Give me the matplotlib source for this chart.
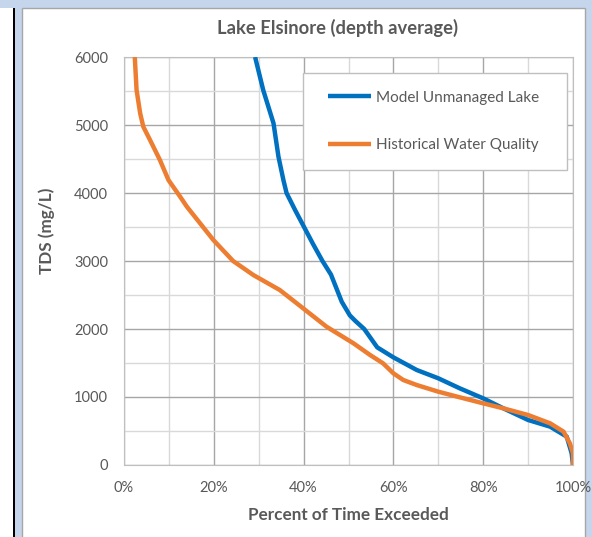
import matplotlib.pyplot as plt
from matplotlib.patches import Rectangle
from matplotlib.legend_handler import HandlerLine2D
from matplotlib.ticker import MultipleLocator, PercentFormatter

plt.rcParams['font.family'] = ['Lato', 'DejaVu Sans']

# Exceedance curves for TDS (percent of time exceeded vs mg/L)
model_pct = [29.2, 31.0, 33.3, 34.4, 35.5, 36.2, 38.1, 40.1, 42.1, 44.2, 46.1, 47.3,
             48.5, 50.3, 51.5, 53.5, 56.4, 60.0, 65.2, 70.0, 74.8, 80.0, 84.5, 90.0,
             94.9, 98.6, 99.7, 100.0]
model_tds = [6000, 5515, 5025, 4534, 4191, 4000, 3750, 3500, 3250, 3000, 2800, 2600,
             2400, 2200, 2120, 2000, 1730, 1583, 1397, 1275, 1127, 980, 833, 662,
             564, 417, 172, 0]

hist_pct = [2.4, 2.8, 3.6, 4.3, 5.8, 8.0, 9.9, 12.5, 14.0, 19.9, 24.3, 28.8, 34.7,
            39.9, 45.1, 51.1, 54.8, 57.7, 60.0, 62.2, 65.2, 70.0, 74.8, 80.0, 84.5,
            90.0, 94.9, 97.9, 99.3, 100.0, 100.0]
hist_tds = [6000, 5515, 5172, 4975, 4779, 4485, 4191, 3946, 3799, 3309, 3000, 2794, 2573,
            2304, 2034, 1790, 1618, 1495, 1348, 1250, 1176, 1078, 995, 907, 833,
            735, 613, 490, 319, 172, 0]

W, H = 592, 537
gray_text = '#595959'

fig = plt.figure(figsize=(W / 100, H / 100), dpi=100, facecolor='#c5d6ec')

# window frame pieces around the chart (kept behind the axes)
fig.patches.append(Rectangle((0, 0), 13 / W, 1 - 8 / H, transform=fig.transFigure,
                             facecolor='white', edgecolor='none', zorder=-2))
fig.patches.append(Rectangle((13 / W, 0), 2 / W, 1 - 8 / H, transform=fig.transFigure,
                             facecolor='black', edgecolor='none', zorder=-2))
fig.patches.append(Rectangle((22 / W, -0.02), (585 - 22) / W, 1 - 8 / H + 0.02,
                             transform=fig.transFigure, facecolor='white',
                             edgecolor='#a6a6a6', linewidth=1, zorder=-2))

ax = fig.add_axes([124 / W, 1 - 465 / H, (573 - 124) / W, (465 - 57) / H])
ax.set_facecolor('white')

ax.plot(model_pct, model_tds, color='#0070c0', lw=3.2, solid_joinstyle='round',
        solid_capstyle='butt', label='Model Unmanaged Lake', zorder=3)
ax.plot(hist_pct, hist_tds, color='#ed7d31', lw=3.2, solid_joinstyle='round',
        solid_capstyle='butt', label='Historical Water Quality', zorder=3)

ax.set_xlim(0, 100)
ax.set_ylim(0, 6000)
ax.xaxis.set_major_locator(MultipleLocator(20))
ax.xaxis.set_minor_locator(MultipleLocator(10))
ax.yaxis.set_major_locator(MultipleLocator(1000))
ax.yaxis.set_minor_locator(MultipleLocator(500))
ax.xaxis.set_major_formatter(PercentFormatter(decimals=0))

ax.grid(which='major', color='#a6a6a6', lw=1)
ax.grid(which='minor', color='#d9d9d9', lw=1)
ax.set_axisbelow(True)
ax.tick_params(which='both', length=0, labelsize=10.5, labelcolor=gray_text)
ax.tick_params(axis='y', pad=11.5)
ax.tick_params(axis='x', pad=11.5)
for side in ['left', 'bottom', 'top', 'right']:
    ax.spines[side].set_color('#bfbfbf')

fig.text(337.5 / W, 1 - 28 / H, 'Lake Elsinore (depth average)', ha='center', va='center',
         fontsize=13.2, fontweight='bold', color=gray_text)
fig.text(348 / W, 1 - 515 / H, 'Percent of Time Exceeded', ha='center', va='center',
         fontsize=12.3, fontweight='bold', color=gray_text)
fig.text(47 / W, 1 - 231 / H, 'TDS (mg/L)', ha='center', va='center', rotation=90,
         fontsize=12.3, fontweight='bold', color=gray_text)

# legend box with a fixed width; handles indented from the left edge
leg = ax.legend(loc='upper left', mode='expand',
                bbox_to_anchor=(303 / W, 1 - 167 / H, 264 / W, 94 / H),
                bbox_transform=fig.transFigure, borderaxespad=0, fancybox=False,
                edgecolor='#bfbfbf', framealpha=1, fontsize=11, labelcolor=gray_text,
                handlelength=3.27, handletextpad=0.39, labelspacing=2.21, borderpad=1.15,
                handler_map={ax.lines[0]: HandlerLine2D(xpad=0.5),
                             ax.lines[1]: HandlerLine2D(xpad=0.5)})
leg.get_frame().set_linewidth(1)

fig.savefig('out.png', dpi=100)
